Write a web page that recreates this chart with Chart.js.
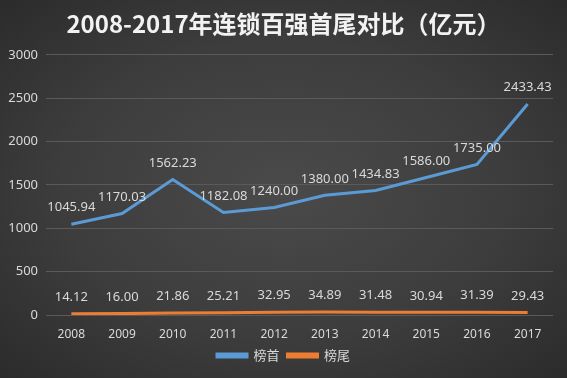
<!DOCTYPE html>
<html>
<head>
<meta charset="utf-8">
<script src="https://cdn.jsdelivr.net/npm/chart.js@4"></script>
<style>
  html, body { margin: 0; padding: 0; }
  body {
    width: 567px;
    height: 378px;
    background: radial-gradient(ellipse at 50% 50%, #4a4a4a 0%, #3d3d3d 55%, #2b2b2b 100%);
  }
  #wrap { width: 567px; height: 378px; }
</style>
</head>
<body>
<div id="wrap"><canvas id="chart"></canvas></div>
<script>
const years = ["2008", "2009", "2010", "2011", "2012", "2013", "2014", "2015", "2016", "2017"];
const topValues = [1045.94, 1170.03, 1562.23, 1182.08, 1240.0, 1380.0, 1434.83, 1586.0, 1735.0, 2433.43];
const bottomValues = [14.12, 16.0, 21.86, 25.21, 32.95, 34.89, 31.48, 30.94, 31.39, 29.43];
const yTicks = [0, 500, 1000, 1500, 2000, 2500, 3000];

const numFont = "'Noto Sans', 'Open Sans', sans-serif";

// simple value labels above each point
const valueLabels = {
  id: "valueLabels",
  afterDatasetsDraw(chart) {
    const ctx = chart.ctx;
    ctx.save();
    ctx.font = "13px " + numFont;
    ctx.fillStyle = "#d9d9d9";
    ctx.textAlign = "center";
    ctx.textBaseline = "bottom";
    chart.data.datasets.forEach((ds, i) => {
      chart.getDatasetMeta(i).data.forEach((pt, j) => {
        ctx.fillText(ds.data[j].toFixed(2), pt.x, pt.y - 10);
      });
    });
    ctx.restore();
  },
};

new Chart(document.getElementById("chart"), {
  type: "line",
  data: {
    labels: years,
    datasets: [
      {
        label: "榜首",
        data: topValues,
        borderColor: "#5b9bd5",
        backgroundColor: "#5b9bd5",
        borderWidth: 3,
        pointRadius: 0,
        tension: 0,
        fill: false,
      },
      {
        label: "榜尾",
        data: bottomValues,
        borderColor: "#ed7d31",
        backgroundColor: "#ed7d31",
        borderWidth: 3,
        pointRadius: 0,
        tension: 0,
        fill: false,
      },
    ],
  },
  options: {
    responsive: true,
    maintainAspectRatio: false,
    animation: false,
    layout: { padding: { left: 0, right: 0, top: 0, bottom: 6 } },
    plugins: {
      title: {
        display: true,
        text: "2008-2017年连锁百强首尾对比（亿元）",
        color: "#f2f2f2",
        font: { family: "'Noto Sans CJK SC', sans-serif", size: 24, weight: "bold" },
        padding: { top: 9, bottom: 17 },
      },
      legend: {
        display: true,
        position: "bottom",
        labels: {
          color: "#d9d9d9",
          font: { family: "'Noto Sans CJK SC', sans-serif", size: 13 },
          boxWidth: 30,
          boxHeight: 3,
          padding: 8,
        },
      },
      tooltip: { enabled: false },
    },
    scales: {
      x: {
        offset: true,
        grid: { display: false },
        border: { display: false },
        ticks: { color: "#d9d9d9", font: { family: numFont, size: 12 }, padding: 4, maxRotation: 0 },
        afterFit: (s) => { s.height = 26; },
      },
      y: {
        min: 0,
        max: 3000,
        afterBuildTicks: (s) => { s.ticks = yTicks.map((v) => ({ value: v })); },
        grid: { color: "#5a5a5a", lineWidth: 1, drawTicks: false },
        border: { display: false },
        ticks: {
          color: "#d9d9d9",
          font: { family: numFont, size: 13 },
          padding: 8,
          callback: (v) => String(v),
        },
        afterFit: (s) => { s.width = 46; },
      },
      // empty right-hand gutter so the title stays centred on the page
      yRight: {
        position: "right",
        min: 0,
        max: 3000,
        grid: { display: false },
        border: { display: false },
        ticks: { display: false },
        afterFit: (s) => { s.width = 14; },
      },
    },
  },
  plugins: [valueLabels],
});
</script>
</body>
</html>
